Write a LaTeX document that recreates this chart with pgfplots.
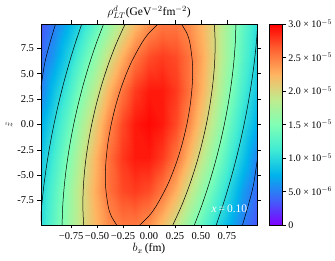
\documentclass[border=0pt]{standalone}
\usepackage{pgfplots}
\pgfplotsset{compat=1.18}
\usepackage{pgfplotstable}
\usepackage{fontspec}
\setmainfont{Liberation Serif}

\pgfplotsset{colormap={mplrainbow}{rgb=(0.5,0,1) rgb=(0.25,0.383,0.981) rgb=(0,0.707,0.924) rgb=(0.25,0.924,0.831) rgb=(0.5,1,0.707) rgb=(0.75,0.924,0.556) rgb=(1,0.707,0.383) rgb=(1,0.383,0.195) rgb=(1,0,0)}}

% rho (units of 1e-6 GeV^-2 fm^-2) on grid b_x x z
\pgfplotstableread{
b z f
-1.04 -9.9 10.163
-0.91 -9.9 13.203
-0.78 -9.9 16.416
-0.65 -9.9 19.534
-0.52 -9.9 22.246
-0.39 -9.9 24.246
-0.26 -9.9 25.292
-0.13 -9.9 25.249
0 -9.9 24.124
0.13 -9.9 22.059
0.26 -9.9 19.305
0.39 -9.9 16.169
0.52 -9.9 12.960
0.65 -9.9 9.943
0.78 -9.9 7.300
0.91 -9.9 4.950
1.04 -9.9 3.200
-1.04 -6.6 9.527
-0.91 -6.6 12.659
-0.78 -6.6 16.097
-0.65 -6.6 19.591
-0.52 -6.6 22.819
-0.39 -6.6 25.437
-0.26 -6.6 27.138
-0.13 -6.6 27.710
0 -6.6 27.078
0.13 -6.6 25.324
0.26 -6.6 22.667
0.39 -6.6 19.417
0.52 -6.6 15.919
0.65 -6.6 12.490
0.78 -6.6 9.380
0.91 -6.6 6.400
1.04 -6.6 4.100
-1.04 -3.3 8.530
-0.91 -3.3 11.591
-0.78 -3.3 15.075
-0.65 -3.3 18.765
-0.52 -3.3 22.353
-0.39 -3.3 25.485
-0.26 -3.3 27.807
-0.13 -3.3 29.039
0 -3.3 29.022
0.13 -3.3 27.759
0.26 -3.3 25.412
0.39 -3.3 22.263
0.52 -3.3 18.668
0.65 -3.3 14.980
0.78 -3.3 11.505
0.91 -3.3 8.457
1.04 -3.3 5.200
-1.04 0 7.290
-0.91 0 10.132
-0.78 0 13.478
-0.65 0 17.158
-0.52 0 20.905
-0.39 0 24.377
-0.26 0 27.204
-0.13 0 29.055
0 0 29.700
0.13 0 29.055
0.26 0 27.204
0.39 0 24.377
0.52 0 20.905
0.65 0 17.158
0.78 0 13.478
0.91 0 10.132
1.04 0 7.290
-1.04 3.3 5.200
-0.91 3.3 8.457
-0.78 3.3 11.505
-0.65 3.3 14.980
-0.52 3.3 18.668
-0.39 3.3 22.263
-0.26 3.3 25.412
-0.13 3.3 27.759
0 3.3 29.022
0.13 3.3 29.039
0.26 3.3 27.807
0.39 3.3 25.485
0.52 3.3 22.353
0.65 3.3 18.765
0.78 3.3 15.075
0.91 3.3 11.591
1.04 3.3 8.530
-1.04 6.6 4.100
-0.91 6.6 6.400
-0.78 6.6 9.380
-0.65 6.6 12.490
-0.52 6.6 15.919
-0.39 6.6 19.417
-0.26 6.6 22.667
-0.13 6.6 25.324
0 6.6 27.078
0.13 6.6 27.710
0.26 6.6 27.138
0.39 6.6 25.437
0.52 6.6 22.819
0.65 6.6 19.591
0.78 6.6 16.097
0.91 6.6 12.659
1.04 6.6 9.527
-1.04 9.9 3.200
-0.91 9.9 4.950
-0.78 9.9 7.300
-0.65 9.9 9.943
-0.52 9.9 12.960
-0.39 9.9 16.169
-0.26 9.9 19.305
-0.13 9.9 22.059
0 9.9 24.124
0.13 9.9 25.249
0.26 9.9 25.292
0.39 9.9 24.246
0.52 9.9 22.246
0.65 9.9 19.534
0.78 9.9 16.416
0.91 9.9 13.203
1.04 9.9 10.163
}\rhodata

\begin{document}
\begin{tikzpicture}
\useasboundingbox (-41pt,-36pt) rectangle (294pt,225pt);
\begin{axis}[
  name=main, at={(0,0)}, anchor=south west,
  width=216pt, height=201pt, scale only axis,
  xmin=-1.04, xmax=1.04, ymin=-9.9, ymax=9.9,
  colormap name=mplrainbow,
  point meta min=0, point meta max=30,
  xtick={-0.75,-0.5,-0.25,0,0.25,0.5,0.75},
  xticklabels={−0.75,−0.50,−0.25,0.00,0.25,0.50,0.75},
  ytick={-7.5,-5,-2.5,0,2.5,5,7.5},
  yticklabels={-7.5,-5.0,-2.5,0.0,2.5,5.0,7.5},
  tick align=outside, major tick length=3.5pt,
  tick style={black, line width=0.6pt},
  axis line style={line width=0.8pt},
  ticklabel style={font=\fontsize{10.5}{12}\selectfont},
  title={$\rho^{d}_{LT}$(GeV$^{-2}$fm$^{-2}$)},
  title style={font=\fontsize{11.5}{13}\selectfont, yshift=-4pt},
  xlabel={$b_x$\,(fm)},
  xlabel style={font=\fontsize{11.5}{13}\selectfont, yshift=3pt},
  ylabel={$\tilde{z}$},
  ylabel style={font=\fontsize{10}{12}\selectfont, yshift=-2pt},
  axis on top,
  colorbar,
  colorbar style={
    at={(parent axis.north east)}, anchor=north west, xshift=3.8pt,
    width=13.4pt,
    ytick={0,5,10,15,20,25,30},
    yticklabels={0,5.0 × 10$^{-6}$,1.0 × 10$^{-5}$,1.5 × 10$^{-5}$,2.0 × 10$^{-5}$,2.5 × 10$^{-5}$,3.0 × 10$^{-5}$},
    ytick pos=right,
    tick align=outside, major tick length=3pt,
    tick style={black, line width=0.6pt},
    axis line style={line width=0.6pt},
    yticklabel style={font=\fontsize{10}{12}\selectfont, xshift=-1pt},
  },
]
\addplot[surf, shader=interp, mesh/cols=17, point meta=explicit] table[x=b, y=z, meta=f] {\rhodata};

% contour lines (levels 5,10,15,20,25 x 1e-6)
\addplot[black, line width=0.5pt, smooth] coordinates {(-0.3117,-9.9) (-0.3644,-9) (-0.3944,-8) (-0.4187,-6) (-0.4170,-4) (-0.3978,-2) (-0.3642,0) (-0.3170,2) (-0.2554,4) (-0.1763,6) (-0.0712,8) (-0.0008,9) (0.0883,9.9)};
\addplot[black, line width=0.5pt, smooth] coordinates {(-0.0883,-9.9) (0.0008,-9) (0.0712,-8) (0.1763,-6) (0.2554,-4) (0.3170,-2) (0.3642,0) (0.3978,2) (0.4170,4) (0.4187,6) (0.3944,8) (0.3644,9) (0.3117,9.9)};
\addplot[black, line width=0.5pt, smooth] coordinates {(-0.6293,-9.9) (-0.6370,-8) (-0.6314,-6) (-0.6145,-4) (-0.5877,-2) (-0.5518,0) (-0.5069,2) (-0.4529,4) (-0.3890,6) (-0.3138,8) (-0.2293,9.9)};
\addplot[black, line width=0.5pt, smooth] coordinates {(0.2293,-9.9) (0.3138,-8) (0.3890,-6) (0.4529,-4) (0.5069,-2) (0.5518,0) (0.5877,2) (0.6145,4) (0.6314,6) (0.6370,8) (0.6293,9.9)};
\addplot[black, line width=0.5pt, smooth] coordinates {(-0.8370,-9.9) (-0.8306,-8) (-0.8154,-6) (-0.7924,-4) (-0.7623,-2) (-0.7253,0) (-0.6815,2) (-0.6308,4) (-0.5730,6) (-0.5074,8) (-0.4370,9.9)};
\addplot[black, line width=0.5pt, smooth] coordinates {(0.4370,-9.9) (0.5074,-8) (0.5730,-6) (0.6308,-4) (0.6815,-2) (0.7253,0) (0.7623,2) (0.7924,4) (0.8154,6) (0.8306,8) (0.8370,9.9)};
\addplot[black, line width=0.5pt, smooth] coordinates {(-1.0474,-9.9) (-1.0332,-8) (-1.0123,-6) (-0.9855,-4) (-0.9533,-2) (-0.9155,0) (-0.8725,2) (-0.8239,4) (-0.7699,6) (-0.7100,8) (-0.6474,9.9)};
\addplot[black, line width=0.5pt, smooth] coordinates {(0.6474,-9.9) (0.7100,-8) (0.7699,-6) (0.8239,-4) (0.8725,-2) (0.9155,0) (0.9533,2) (0.9855,4) (1.0123,6) (1.0332,8) (1.0474,9.9)};
\addplot[black, line width=0.5pt, smooth] coordinates {(-1.07,2) (-1.04,3.7) (-1.005,6) (-0.955,8) (-0.90,9.9)};
\addplot[black, line width=0.5pt, smooth] coordinates {(0.90,-9.9) (0.955,-8) (1.005,-6) (1.04,-3.7) (1.07,-2)};

\node[text=white, font=\fontsize{11.5}{13}\selectfont] at (axis cs:0.775,-8.3) {\textit{x}\,=\,0.10};
\end{axis}
\end{tikzpicture}
\end{document}
